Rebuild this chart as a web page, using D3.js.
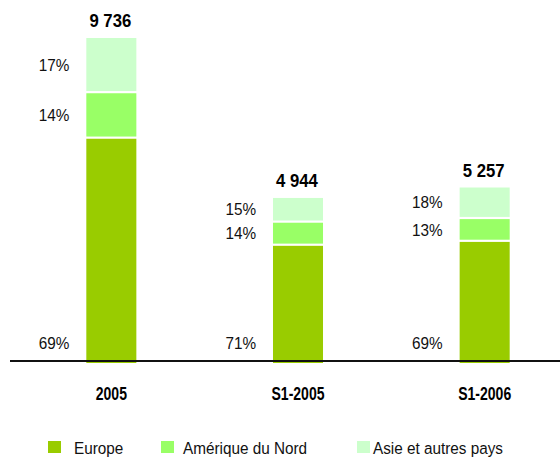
<!DOCTYPE html>
<html>
<head>
<meta charset="utf-8">
<script src="https://cdn.jsdelivr.net/npm/d3@7"></script>
<style>
  body { margin: 0; background: #fff; }
  svg { display: block; font-family: "Liberation Sans", Arial, sans-serif; }
</style>
</head>
<body>
<div id="chart"></div>
<script>
// Data
const periods = ["2005", "S1-2005", "S1-2006"];
const totals = [9736, 4944, 5257];
const regions = ["Europe", "Amérique du Nord", "Asie et autres pays"];
const europePct = [69, 71, 69];
const ameriquePct = [14, 14, 13];
const asiePct = [17, 15, 18];

const colors = ["#99cc00", "#99ff66", "#ccffcc"];

const width = 560;
const height = 458;
const baseline = 363;

const fmt = d3.formatLocale({ decimal: ",", thousands: " ", grouping: [3], currency: ["", " €"] }).format(",d");

// rows with absolute values per region
const rows = periods.map((p, i) => ({
    period: p,
    total: totals[i],
    pct: [europePct[i], ameriquePct[i], asiePct[i]],
    "Europe": totals[i] * europePct[i] / 100,
    "Amérique du Nord": totals[i] * ameriquePct[i] / 100,
    "Asie et autres pays": totals[i] * asiePct[i] / 100
}));

const series = d3.stack().keys(regions)(rows);

const x = d3.scaleBand()
    .domain(periods)
    .range([18, 578])
    .paddingInner(0.732)
    .paddingOuter(0.366);

const y = d3.scaleLinear()
    .domain([0, d3.max(totals)])
    .range([baseline, 38]);

const svg = d3.select("#chart")
    .append("svg")
    .attr("width", width)
    .attr("height", height);

// narrow look: squeeze text horizontally
const narrow = (px, py, sx) => `translate(${px},${py}) scale(${sx},1)`;

// Bars (small white gap under every segment except the bottom one)
const gap = 2.2;
series.forEach((s, k) => {
    svg.append("g")
        .selectAll("rect")
        .data(s)
        .enter()
        .append("rect")
        .attr("x", d => x(d.data.period))
        .attr("width", x.bandwidth())
        .attr("y", d => y(d[1]))
        .attr("height", d => y(d[0]) - y(d[1]) - (k > 0 ? gap : 0))
        .attr("fill", colors[k]);
});

// Percentage labels left of bars
series.forEach((s, k) => {
    svg.append("g")
        .selectAll("text")
        .data(s)
        .enter()
        .append("text")
        .attr("transform", d => narrow(
            x(d.data.period) - 17,
            k === 0 ? baseline - 14 : (y(d[0]) + y(d[1])) / 2 + 5,
            0.9))
        .attr("text-anchor", "end")
        .style("font-size", "17px")
        .style("fill", "#111")
        .text(d => d.data.pct[k] + "%");
});

// Totals above bars
svg.append("g")
    .selectAll("text")
    .data(rows)
    .enter()
    .append("text")
    .attr("transform", d => narrow(x(d.period) + x.bandwidth() / 2 - 1, y(d.total) - 11, 0.88))
    .attr("text-anchor", "middle")
    .style("font-size", "19px")
    .style("font-weight", "bold")
    .style("fill", "#000")
    .text(d => fmt(d.total));

// Axis line
svg.append("line")
    .attr("x1", 10)
    .attr("x2", width)
    .attr("y1", 361)
    .attr("y2", 361)
    .attr("stroke", "#111")
    .attr("stroke-width", 2);

// Category labels
const xAxis = svg.append("g")
    .attr("transform", `translate(0,${baseline})`)
    .call(d3.axisBottom(x).tickSize(0).tickPadding(0));
xAxis.select(".domain").remove();
xAxis.attr("font-family", null).attr("font-size", null);
xAxis.selectAll("text")
    .attr("dy", null)
    .attr("y", 37)
    .attr("transform", "scale(0.78,1)")
    .style("font-size", "18px")
    .style("font-weight", "bold")
    .style("fill", "#000");

// Legend
const legendX = [48, 161, 357];
const legendTextX = [74, 183, 373];
const legend = svg.append("g");
regions.forEach((r, i) => {
    legend.append("rect")
        .attr("x", legendX[i])
        .attr("y", 441)
        .attr("width", 13)
        .attr("height", 12)
        .attr("fill", colors[i]);
    legend.append("text")
        .attr("transform", narrow(legendTextX[i], 454, 0.9))
        .style("font-size", "17px")
        .style("fill", "#111")
        .text(r);
});
</script>
</body>
</html>
